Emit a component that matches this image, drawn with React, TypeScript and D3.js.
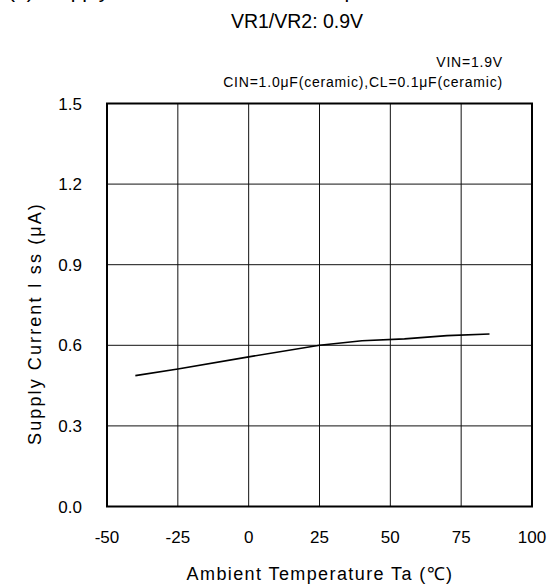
import React from "react";
import * as d3 from "d3";

const temps = [-40, -25, 0, 25, 40, 55, 70, 85];
const current = [0.487, 0.512, 0.557, 0.6, 0.617, 0.624, 0.636, 0.642];
const xTicks = [-50, -25, 0, 25, 50, 75, 100];
const yTicks = [0.0, 0.3, 0.6, 0.9, 1.2, 1.5];

const W = 552;
const H = 585;
const FONT = "'Liberation Sans', Arial, Helvetica, sans-serif";

export default function App() {
  const x = d3.scaleLinear().domain([-50, 100]).range([107, 532]);
  const y = d3.scaleLinear().domain([0, 1.5]).range([506.5, 103.5]);
  const pts = temps.map((t, i) => [t, current[i]] as [number, number]);
  const line = d3
    .line<[number, number]>()
    .x((d) => x(d[0]))
    .y((d) => y(d[1]));

  return (
    <svg
      width={W}
      height={H}
      style={{ position: "absolute", left: 0, top: 0, background: "#fff" }}
      fontFamily={FONT}
    >
      <rect x={0} y={0} width={W} height={H} fill="#fff" />
      {/* titles (top line is cut off in the reference) */}
      <text x={8} y={-2.5} fontSize={21} fill="#000">(5)</text>
      <text x={45} y={-2.5} fontSize={21} fill="#000">
        Supply Current vs. Ambient Temperature
      </text>
      <text x={297} y={28} fontSize={19.5} textAnchor="middle" fill="#000">
        VR1/VR2: 0.9V
      </text>
      <text x={503} y={67} fontSize={14} textAnchor="end" fill="#000" letterSpacing={0.8}>
        VIN=1.9V
      </text>
      <text x={503} y={87} fontSize={14} textAnchor="end" fill="#000" letterSpacing={0.8}>
        CIN=1.0μF(ceramic),CL=0.1μF(ceramic)
      </text>

      {/* grid */}
      {xTicks.slice(1, -1).map((t) => (
        <line
          key={"gx" + t}
          x1={x(t)}
          x2={x(t)}
          y1={y(1.5)}
          y2={y(0)}
          stroke="#111"
          strokeWidth={1}
        />
      ))}
      {yTicks.slice(1, -1).map((v) => (
        <line
          key={"gy" + v}
          x1={x(-50)}
          x2={x(100)}
          y1={y(v)}
          y2={y(v)}
          stroke="#111"
          strokeWidth={1}
        />
      ))}
      <rect
        x={x(-50)}
        y={y(1.5)}
        width={x(100) - x(-50)}
        height={y(0) - y(1.5)}
        fill="none"
        stroke="#000"
        strokeWidth={2}
      />

      {/* data */}
      <path d={line(pts) || ""} fill="none" stroke="#000" strokeWidth={1.6} />

      {/* tick labels */}
      {yTicks.map((v) => (
        <text
          key={"ly" + v}
          x={82}
          y={y(v)}
          dy="0.36em"
          fontSize={17}
          textAnchor="end"
          fill="#000"
        >
          {v.toFixed(1)}
        </text>
      ))}
      {xTicks.map((t) => (
        <text
          key={"lx" + t}
          x={x(t)}
          y={543}
          fontSize={17}
          textAnchor="middle"
          fill="#000"
        >
          {t}
        </text>
      ))}

      {/* axis titles */}
      <text x={320} y={580} fontSize={18} textAnchor="middle" fill="#000" letterSpacing={1.4}>
        Ambient Temperature Ta (℃)
      </text>
      <text
        transform={`translate(41,323.5) rotate(-90)`}
        fontSize={18}
        textAnchor="middle"
        fill="#000"
        letterSpacing={2.1}
      >
        Supply Current I ss (μA)
      </text>
    </svg>
  );
}
